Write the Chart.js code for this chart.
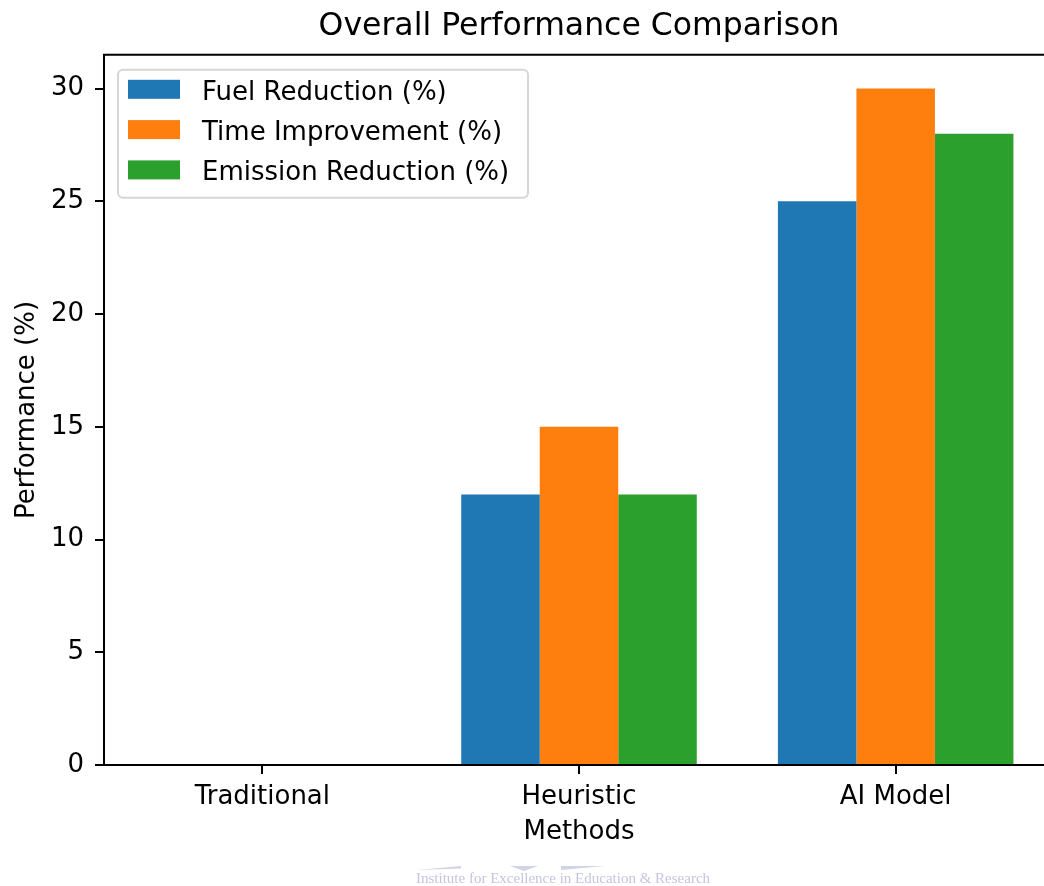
<!DOCTYPE html>
<html>
<head>
<meta charset="utf-8">
<script src="https://cdn.jsdelivr.net/npm/chart.js@4.4.0/dist/chart.umd.min.js"></script>
<style>
  html, body { margin: 0; padding: 0; background: #fff; overflow: hidden; }
  #wrap { position: relative; width: 1044px; height: 886px; overflow: hidden; }
  #chart { position: absolute; left: 0; top: 0; }
  .mark {
    position: absolute; left: 416px; top: 871px; white-space: nowrap;
    font-family: "Liberation Serif", serif; font-size: 15px; line-height: 1;
    color: #c4c4e0;
  }
  .logo { position: absolute; background: #d3d3e8; }
</style>
</head>
<body>
<div id="wrap">
  <canvas id="chart" width="1060" height="886"></canvas>
  <div class="logo" style="left:417px;top:866px;width:44px;height:4px;clip-path:polygon(0 100%,100% 0,100% 60%,0 100%);"></div>
  <div class="logo" style="left:510px;top:866px;width:28px;height:5px;clip-path:polygon(0 0,100% 0,50% 100%);"></div>
  <div class="logo" style="left:561px;top:866px;width:44px;height:4px;clip-path:polygon(0 0,100% 0,0 100%);"></div>
  <div class="mark">Institute for Excellence in Education &amp; Research</div>
</div>
<script>
const methods = ["Traditional", "Heuristic", "AI Model"];
const fuelReduction = [0, 12, 25];
const timeImprovement = [0, 15, 30];
const emissionReduction = [0, 12, 28];
const yTicks = [0, 5, 10, 15, 20, 25, 30];
const yMax = 31.5;

const FONT = '"DejaVu Sans", sans-serif';

// matplotlib style legend box in the upper left of the axes
const legendBox = {
  id: "legendBox",
  afterDatasetsDraw(chart) {
    const { ctx, chartArea } = chart;
    const x = chartArea.left + 14, y = chartArea.top + 15;
    ctx.save();
    ctx.beginPath();
    ctx.roundRect(x, y, 410, 128, 5);
    ctx.fillStyle = "rgba(255,255,255,0.8)";
    ctx.fill();
    ctx.lineWidth = 2;
    ctx.strokeStyle = "#d6d6d6";
    ctx.stroke();
    ctx.font = "26px " + FONT;
    ctx.textBaseline = "middle";
    chart.data.datasets.forEach((ds, i) => {
      const ry = y + 10 + i * 40.3;
      ctx.fillStyle = ds.backgroundColor;
      ctx.fillRect(x + 10, ry, 52, 19);
      ctx.fillStyle = "#000";
      ctx.fillText(ds.label, x + 84, ry + 13);
    });
    ctx.restore();
  }
};

// top and right spines
const spines = {
  id: "spines",
  afterDraw(chart) {
    const { ctx, chartArea: a } = chart;
    ctx.save();
    ctx.strokeStyle = "#000";
    ctx.lineWidth = 2;
    ctx.beginPath();
    ctx.moveTo(a.left - 1, a.top);
    ctx.lineTo(a.right, a.top);
    ctx.lineTo(a.right, a.bottom);
    ctx.stroke();
    ctx.restore();
  }
};

const axisGrid = { display: true, drawOnChartArea: false, drawTicks: true, tickLength: 9, color: "#000", lineWidth: 2, offset: false };
const axisBorder = { display: true, color: "#000", width: 2 };

new Chart(document.getElementById("chart"), {
  type: "bar",
  data: {
    labels: methods,
    datasets: [
      { label: "Fuel Reduction (%)", data: fuelReduction, backgroundColor: "#1f77b4" },
      { label: "Time Improvement (%)", data: timeImprovement, backgroundColor: "#ff7f0e" },
      { label: "Emission Reduction (%)", data: emissionReduction, backgroundColor: "#2ca02c" },
    ],
  },
  options: {
    responsive: false,
    animation: false,
    barPercentage: 1,
    categoryPercentage: 0.7438,
    layout: { padding: { left: 0, right: 6, top: 0, bottom: 0 } },
    plugins: {
      legend: { display: false },
      tooltip: { enabled: false },
      title: {
        display: true,
        fullSize: false,
        text: "Overall Performance Comparison",
        color: "#000",
        font: { family: FONT, size: 31.5, weight: "normal" },
        padding: { top: 8, bottom: 9 },
      },
    },
    scales: {
      x: {
        offset: true,
        grid: axisGrid,
        border: axisBorder,
        ticks: { color: "#000", font: { family: FONT, size: 26 }, padding: 8, maxRotation: 0 },
        title: {
          display: true,
          text: "Methods",
          color: "#000",
          font: { family: FONT, size: 26 },
          padding: { top: 0, bottom: 38 },
        },
        afterFit: (s) => { s.height = 121; },
      },
      y: {
        min: 0,
        max: yMax,
        grid: axisGrid,
        border: axisBorder,
        ticks: { color: "#000", font: { family: FONT, size: 26 }, padding: 11 },
        afterBuildTicks: (s) => { s.ticks = yTicks.map((v) => ({ value: v })); },
        title: {
          display: true,
          text: "Performance (%)",
          color: "#000",
          font: { family: FONT, size: 26 },
          padding: { top: 12, bottom: 0 },
        },
        afterFit: (s) => { s.width = 104; },
      },
    },
  },
  plugins: [legendBox, spines],
});
</script>
</body>
</html>
